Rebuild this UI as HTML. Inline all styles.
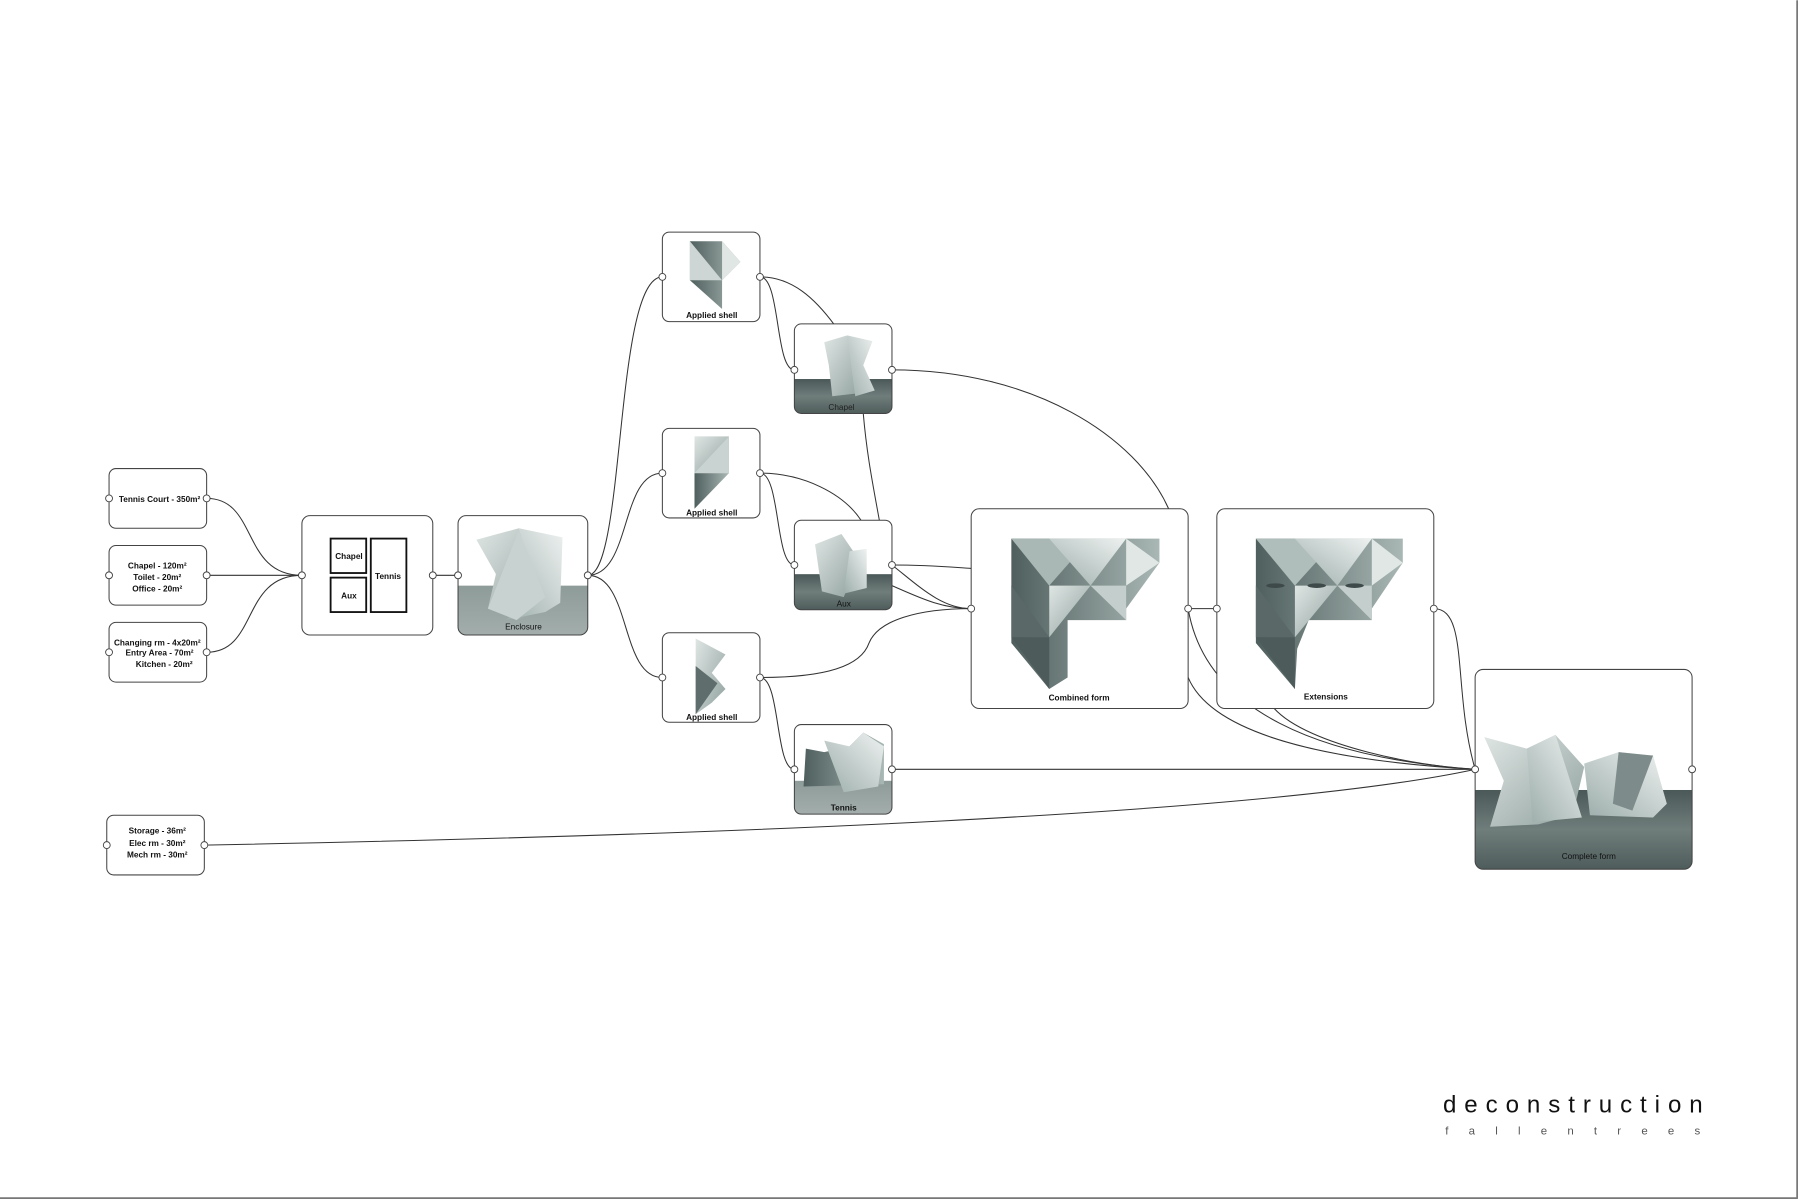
<!DOCTYPE html>
<html><head><meta charset="utf-8"><style>
html,body{margin:0;padding:0;background:#fff;}
svg{display:block;}
text{font-family:"Liberation Sans",sans-serif;}
.l{font-size:7.2px;font-weight:bold;fill:#111;text-anchor:middle;}
</style></head><body>
<svg width="1800" height="1200" viewBox="0 0 1568 1045" xmlns="http://www.w3.org/2000/svg">
<defs>
<linearGradient id="g1" x1="0" y1="0" x2="1" y2="1"><stop offset="0" stop-color="#dfe6e4"/><stop offset="1" stop-color="#8fa09d"/></linearGradient>
<linearGradient id="g2" x1="1" y1="0" x2="0" y2="1"><stop offset="0" stop-color="#eef2f1"/><stop offset="1" stop-color="#9cadaa"/></linearGradient>
<linearGradient id="g3" x1="0" y1="0" x2="1" y2="0"><stop offset="0" stop-color="#4f5f5d"/><stop offset="1" stop-color="#a9b8b5"/></linearGradient>
<linearGradient id="dk" x1="0" y1="0" x2="0" y2="1"><stop offset="0" stop-color="#4a5958"/><stop offset="0.5" stop-color="#6f7d7b"/><stop offset="1" stop-color="#4e5c5b"/></linearGradient>
<linearGradient id="lt" x1="0" y1="0" x2="0" y2="1"><stop offset="0" stop-color="#8d9b99"/><stop offset="1" stop-color="#a3aeac"/></linearGradient>
<clipPath id="cEnc"><rect x="399" y="449" width="113" height="104" rx="7"/></clipPath>
<clipPath id="cCh"><rect x="692" y="282" width="85" height="78" rx="6"/></clipPath>
<clipPath id="cAux"><rect x="692" y="453" width="85" height="78" rx="6"/></clipPath>
<clipPath id="cTen"><rect x="692" y="631" width="85" height="78" rx="6"/></clipPath>
<clipPath id="cCo"><rect x="1285" y="583" width="189" height="174" rx="7"/></clipPath>
</defs>
<rect x="0" y="0" width="1568" height="1045" fill="#fff"/>
<line x1="0" y1="1043.5" x2="1566" y2="1043.5" stroke="#777" stroke-width="1.5"/>
<line x1="1565.5" y1="0" x2="1565.5" y2="1044" stroke="#777" stroke-width="1.5"/>

<g fill="none" stroke="#333" stroke-width="0.9">
<path d="M180,434 C225,434 210,501 263,501"/>
<path d="M180,501 L263,501"/>
<path d="M180,568 C225,568 210,501 263,501"/>
<path d="M377,501 L399,501"/>
<path d="M512,501 C545,501 535,241 577,241"/>
<path d="M512,501 C550,501 540,412 577,412"/>
<path d="M512,501 C550,501 540,590 577,590"/>
<path d="M662,241 C680,241 675,322 692,322"/>
<path d="M662,241 C690,241 710,260 727,283"/>
<path d="M662,412 C680,412 675,492 692,492"/>
<path d="M662,412 C700,412 735,430 750,453"/>
<path d="M752,360 C755,395 760,420 766,453"/>
<path d="M777,322 C900,322 990,380 1018,443"/>
<path d="M777,492 C810,492 830,494 846,495"/>
<path d="M777,492 C800,510 820,530 846,530"/>
<path d="M777,510 C800,520 820,530 846,530"/>
<path d="M662,590 C720,590 750,580 757,560 C765,540 800,530 846,530"/>
<path d="M662,590 C680,590 675,670 692,670"/>
<path d="M777,670 L1285,670"/>
<path d="M1035,530 L1060,530"/>
<path d="M1035,530 C1050,620 1150,660 1285,670"/>
<path d="M1035,590 C1060,650 1200,665 1285,670"/>
<path d="M1110,617 C1140,650 1240,668 1285,670"/>
<path d="M1249,530 C1280,530 1265,600 1285,670"/>
<path d="M178,736 C600,728 1100,710 1285,670"/>
</g>

<g fill="#fff" stroke="#444" stroke-width="0.9">
<rect x="95" y="408" width="85" height="52" rx="6"/>
<rect x="95" y="475" width="85" height="52" rx="6"/>
<rect x="95" y="542" width="85" height="52" rx="6"/>
<rect x="93" y="710" width="85" height="52" rx="6"/>
<rect x="263" y="449" width="114" height="104" rx="7"/>
<rect x="577" y="202" width="85" height="78" rx="6"/>
<rect x="577" y="373" width="85" height="78" rx="6"/>
<rect x="577" y="551" width="85" height="78" rx="6"/>
<rect x="846" y="443" width="189" height="174" rx="7"/>
<rect x="1060" y="443" width="189" height="174" rx="7"/>
</g>
<g fill="#fff" stroke="#111" stroke-width="1.6">
<rect x="288" y="469" width="31" height="30"/>
<rect x="288" y="503" width="31" height="30"/>
<rect x="323" y="469" width="31" height="64"/>
</g>
<text class="l" x="139" y="437">Tennis Court - 350m²</text>
<text class="l" x="137" y="495">Chapel - 120m²</text>
<text class="l" x="137" y="505">Toilet - 20m²</text>
<text class="l" x="137" y="515">Office - 20m²</text>
<text class="l" x="137" y="562">Changing rm - 4x20m²</text>
<text class="l" x="139" y="571">Entry Area - 70m²</text>
<text class="l" x="143" y="581">Kitchen - 20m²</text>
<text class="l" x="137" y="726">Storage - 36m²</text>
<text class="l" x="137" y="737">Elec rm - 30m²</text>
<text class="l" x="137" y="747">Mech rm - 30m²</text>
<text class="l" x="304" y="487">Chapel</text>
<text class="l" x="304" y="521">Aux</text>
<text class="l" x="338" y="504">Tennis</text>

<g clip-path="url(#cEnc)">
<rect x="399" y="449" width="113" height="104" fill="#fff"/>
<rect x="399" y="510" width="113" height="43" fill="url(#lt)"/>
<polygon points="415,470 452,460 475,530 450,540 425,530 432,500" fill="url(#g1)"/>
<polygon points="452,460 490,468 488,525 475,533 440,540 470,520" fill="url(#g2)"/>
<polygon points="425,530 452,462 475,520 450,540" fill="#c8d2d0"/>
</g>
<rect x="399" y="449" width="113" height="104" rx="7" fill="none" stroke="#444" stroke-width="0.9"/>
<text class="l" x="456" y="548" style="font-weight:normal">Enclosure</text>

<polygon points="601,210 629,210 645,228 629,244 629,269 601,244" fill="url(#g3)"/>
<polygon points="601,210 629,244 601,244" fill="#cdd6d4"/>
<polygon points="629,210 645,228 629,244" fill="#dfe6e4"/>
<polygon points="605,380 635,380 635,412 605,412" fill="url(#g1)"/>
<polygon points="605,412 635,412 605,443" fill="url(#g3)"/>
<polygon points="605,412 635,380 635,412" fill="#c9d3d1"/>
<polygon points="606,556 632,570 620,586 632,600 620,612 606,622" fill="url(#g1)"/>
<polygon points="606,580 625,595 606,622" fill="#5f6e6c"/>
<text class="l" x="620" y="277">Applied shell</text>
<text class="l" x="620" y="449">Applied shell</text>
<text class="l" x="620" y="627">Applied shell</text>

<g clip-path="url(#cCh)">
<rect x="692" y="282" width="85" height="78" fill="#fff"/>
<rect x="692" y="330" width="85" height="30" fill="url(#dk)"/>
<polygon points="718,298 738,292 752,342 725,345 722,318" fill="url(#g1)"/>
<polygon points="738,292 760,297 752,318 762,340 745,345" fill="url(#g2)"/>
</g>
<rect x="692" y="282" width="85" height="78" rx="6" fill="none" stroke="#444" stroke-width="0.9"/>
<text class="l" x="733" y="357" style="font-weight:normal;fill:#222">Chapel</text>

<g clip-path="url(#cAux)">
<rect x="692" y="453" width="85" height="78" fill="#fff"/>
<rect x="692" y="500" width="85" height="31" fill="url(#dk)"/>
<polygon points="710,474 733,465 748,487 735,520 716,515" fill="url(#g1)"/>
<polygon points="740,480 755,478 755,512 735,517" fill="url(#g2)"/>
</g>
<rect x="692" y="453" width="85" height="78" rx="6" fill="none" stroke="#444" stroke-width="0.9"/>
<text class="l" x="735" y="528" style="font-weight:normal;fill:#111">Aux</text>

<g clip-path="url(#cTen)">
<rect x="692" y="631" width="85" height="78" fill="#fff"/>
<rect x="692" y="680" width="85" height="29" fill="url(#lt)"/>
<polygon points="702,652 718,655 740,650 752,638 770,648 770,683 700,685" fill="url(#g3)"/>
<polygon points="718,645 740,650 752,638 770,650 765,685 735,690" fill="url(#g2)"/>
</g>
<rect x="692" y="631" width="85" height="78" rx="6" fill="none" stroke="#444" stroke-width="0.9"/>
<text class="l" x="735" y="706">Tennis</text>

<g>
<polygon points="881,469 1010,469 1010,490 981,530 981,540 930,540 930,590 914,600 881,560" fill="url(#g3)"/>
<polygon points="881,469 914,510 950,469" fill="#a9b8b5"/>
<polygon points="914,469 981,469 950,510" fill="url(#g2)"/>
<polygon points="981,469 1010,490 981,510" fill="#e0e7e5"/>
<polygon points="881,510 914,555 881,555" fill="#5a6968"/>
<polygon points="914,510 950,510 914,555" fill="url(#g1)"/>
<polygon points="881,555 914,600 914,555" fill="#4d5c5b"/>
<polygon points="950,510 981,510 981,540" fill="#c4cfcd"/>
</g>
<text class="l" x="940" y="610">Combined form</text>

<g>
<polygon points="1094,469 1222,469 1222,490 1195,530 1195,540 1140,540 1130,565 1128,600 1094,560" fill="url(#g3)"/>
<polygon points="1094,469 1128,510 1165,469" fill="#b0bebb"/>
<polygon points="1128,469 1195,469 1165,510" fill="url(#g2)"/>
<polygon points="1195,469 1222,490 1195,510" fill="#e0e7e5"/>
<polygon points="1094,510 1128,555 1094,555" fill="#5a6968"/>
<polygon points="1128,510 1165,510 1128,555" fill="url(#g1)"/>
<polygon points="1165,510 1195,510 1195,540" fill="#c4cfcd"/>
<polygon points="1094,555 1128,600 1128,555" fill="#4d5c5b"/>
<g fill="#3d4a49"><ellipse cx="1111" cy="510" rx="8" ry="2"/><ellipse cx="1147" cy="510" rx="8" ry="2"/><ellipse cx="1180" cy="510" rx="8" ry="2"/></g>
</g>
<text class="l" x="1155" y="609">Extensions</text>

<g clip-path="url(#cCo)">
<rect x="1285" y="583" width="189" height="174" fill="#fff"/>
<rect x="1285" y="688" width="189" height="69" fill="url(#dk)"/>
<polygon points="1293,642 1330,652 1355,640 1380,668 1370,710 1340,718 1298,720 1310,680" fill="url(#g1)"/>
<polygon points="1330,652 1355,640 1378,712 1335,716" fill="url(#g2)"/>
<polygon points="1380,665 1410,655 1440,658 1452,700 1440,712 1385,710" fill="url(#g2)"/>
<polygon points="1410,655 1440,658 1422,706 1405,700" fill="#7d8c8a"/>
</g>
<rect x="1285" y="583" width="189" height="174" rx="7" fill="none" stroke="#444" stroke-width="0.9"/>
<text class="l" x="1384" y="748" style="font-weight:normal;fill:#111">Complete form</text>

<g fill="#fff" stroke="#444" stroke-width="0.8">
<circle cx="95" cy="434" r="3"/><circle cx="180" cy="434" r="3"/>
<circle cx="95" cy="501" r="3"/><circle cx="180" cy="501" r="3"/>
<circle cx="95" cy="568" r="3"/><circle cx="180" cy="568" r="3"/>
<circle cx="93" cy="736" r="3"/><circle cx="178" cy="736" r="3"/>
<circle cx="263" cy="501" r="3"/><circle cx="377" cy="501" r="3"/>
<circle cx="399" cy="501" r="3"/><circle cx="512" cy="501" r="3"/>
<circle cx="577" cy="241" r="3"/><circle cx="662" cy="241" r="3"/>
<circle cx="577" cy="412" r="3"/><circle cx="662" cy="412" r="3"/>
<circle cx="577" cy="590" r="3"/><circle cx="662" cy="590" r="3"/>
<circle cx="692" cy="322" r="3"/><circle cx="777" cy="322" r="3"/>
<circle cx="692" cy="492" r="3"/><circle cx="777" cy="492" r="3"/>
<circle cx="692" cy="670" r="3"/><circle cx="777" cy="670" r="3"/>
<circle cx="846" cy="530" r="3"/><circle cx="1035" cy="530" r="3"/>
<circle cx="1060" cy="530" r="3"/><circle cx="1249" cy="530" r="3"/>
<circle cx="1285" cy="670" r="3"/><circle cx="1474" cy="670" r="3"/>
</g>

<text x="1257" y="969" style="font-size:21px;letter-spacing:6.9px;fill:#111">deconstruction</text>
<text x="1259" y="988" style="font-size:10px;letter-spacing:17.6px;fill:#555">fallentrees</text>
</svg>
</body></html>
